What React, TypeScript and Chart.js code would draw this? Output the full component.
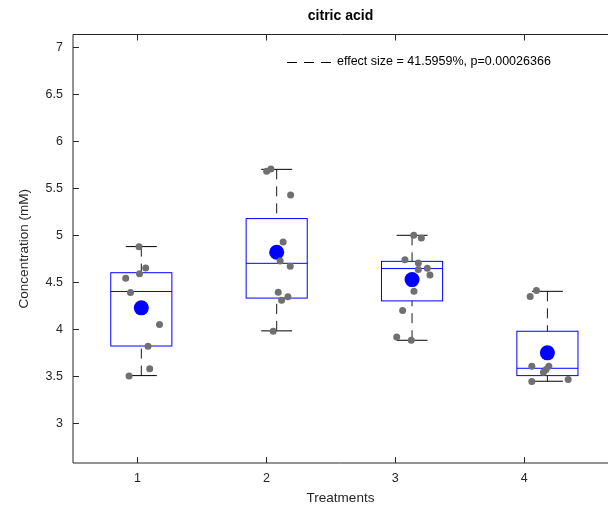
import React, { useEffect, useRef } from "react";
import { Chart, registerables } from "chart.js";

Chart.register(...registerables);

const chartTitle = "citric acid";
const xAxisTitle = "Treatments";
const yAxisTitle = "Concentration (mM)";
const legendText = "effect size = 41.5959%, p=0.00026366";

const treatments = [1, 2, 3, 4];
const xTickLabels = ["1", "2", "3", "4"];
const yTickValues = [3, 3.5, 4, 4.5, 5, 5.5, 6, 6.5, 7];

// Centre of each treatment group on the x axis
const groupPositions = [1.03, 2.08, 3.13, 4.18];

// Box statistics per treatment
const boxQ1 = [3.82, 4.33, 4.3, 3.505];
const boxMedian = [4.4, 4.7, 4.644, 3.583];
const boxQ3 = [4.6, 5.176, 4.721, 3.977];
const whiskerLow = [3.505, 3.981, 3.881, 3.445];
const whiskerHigh = [4.878, 5.7, 4.998, 4.402];
const groupMeans = [4.226, 4.817, 4.527, 3.747];

// Individual replicates (jittered x, concentration y)
const rep1X = [1.012, 1.064, 1.016, 0.909, 0.946, 1.171, 1.082, 1.095, 0.935];
const rep1Y = [4.875, 4.651, 4.59, 4.54, 4.39, 4.05, 3.817, 3.577, 3.502];
const rep2X = [2.002, 2.035, 2.188, 2.13, 2.107, 2.185, 2.092, 2.167, 2.118, 2.053];
const rep2Y = [5.679, 5.704, 5.428, 4.928, 4.725, 4.668, 4.392, 4.343, 4.306, 3.977];
const rep3X = [3.143, 3.202, 3.075, 3.179, 3.179, 3.248, 3.269, 3.145, 3.057, 3.011, 3.124];
const rep3Y = [4.998, 4.97, 4.739, 4.704, 4.633, 4.647, 4.576, 4.402, 4.197, 3.917, 3.881];
const rep4X = [4.095, 4.046, 4.059, 4.191, 4.17, 4.149, 4.059, 4.341];
const rep4Y = [4.41, 4.346, 3.604, 3.604, 3.569, 3.54, 3.441, 3.463];

const FONT = '"Liberation Sans", Arial, Helvetica, sans-serif';
const AXIS_COLOR = "#262626";
const BOX_COLOR = "#0000ff";
const BOX_HALF = 0.237;
const CAP_HALF = 0.12;

const boxPlugin = {
  id: "boxes",
  beforeDatasetsDraw(chart: any) {
    const { ctx } = chart;
    const xs = chart.scales.x;
    const ys = chart.scales.y;
    ctx.save();
    groupPositions.forEach((pos, i) => {
      const cx = xs.getPixelForValue(pos);
      const l = xs.getPixelForValue(pos - BOX_HALF);
      const r = xs.getPixelForValue(pos + BOX_HALF);
      const cl = xs.getPixelForValue(pos - CAP_HALF);
      const cr = xs.getPixelForValue(pos + CAP_HALF);
      const yQ1 = ys.getPixelForValue(boxQ1[i]);
      const yQ3 = ys.getPixelForValue(boxQ3[i]);
      const yMed = ys.getPixelForValue(boxMedian[i]);
      const yLo = ys.getPixelForValue(whiskerLow[i]);
      const yHi = ys.getPixelForValue(whiskerHigh[i]);

      // whiskers (dashed, drawn from the caps towards the box)
      ctx.strokeStyle = "#1a1a1a";
      ctx.lineWidth = 1;
      ctx.setLineDash([10, 7]);
      ctx.beginPath();
      ctx.moveTo(cx, yHi);
      ctx.lineTo(cx, yQ3);
      ctx.moveTo(cx, yLo);
      ctx.lineTo(cx, yQ1);
      ctx.stroke();
      ctx.setLineDash([]);

      // caps
      ctx.strokeStyle = "#000";
      ctx.beginPath();
      ctx.moveTo(cl, yHi);
      ctx.lineTo(cr, yHi);
      ctx.moveTo(cl, yLo);
      ctx.lineTo(cr, yLo);
      ctx.stroke();

      // box and median
      ctx.strokeStyle = BOX_COLOR;
      ctx.strokeRect(l, yQ3, r - l, yQ1 - yQ3);
      ctx.beginPath();
      ctx.moveTo(l, yMed);
      ctx.lineTo(r, yMed);
      ctx.stroke();
    });
    ctx.restore();
  },
  afterDraw(chart: any) {
    const { ctx, chartArea } = chart;
    const xs = chart.scales.x;
    const ys = chart.scales.y;
    const { left, right, top, bottom } = chartArea;
    ctx.save();

    // axes frame
    ctx.strokeStyle = AXIS_COLOR;
    ctx.lineWidth = 1;
    ctx.beginPath();
    ctx.moveTo(left, top);
    ctx.lineTo(right, top);
    ctx.moveTo(left, bottom);
    ctx.lineTo(right, bottom);
    ctx.moveTo(left, top);
    ctx.lineTo(left, bottom);
    // inward tick marks
    treatments.forEach((t) => {
      const x = Math.round(xs.getPixelForValue(t)) + 0.5;
      ctx.moveTo(x, bottom);
      ctx.lineTo(x, bottom - 6);
      ctx.moveTo(x, top);
      ctx.lineTo(x, top + 6);
    });
    yTickValues.forEach((v) => {
      const y = Math.round(ys.getPixelForValue(v)) + 0.5;
      ctx.moveTo(left, y);
      ctx.lineTo(left + 6, y);
    });
    ctx.stroke();

    // title
    ctx.fillStyle = "#000";
    ctx.font = `bold 14px ${FONT}`;
    ctx.textAlign = "center";
    ctx.textBaseline = "middle";
    ctx.fillText(chartTitle, (left + right) / 2, 16.5);

    // axis titles
    ctx.fillStyle = AXIS_COLOR;
    ctx.font = `13.5px ${FONT}`;
    ctx.fillText(xAxisTitle, (left + right) / 2, 498);
    ctx.save();
    ctx.translate(24, (top + bottom) / 2);
    ctx.rotate(-Math.PI / 2);
    ctx.fillText(yAxisTitle, 0, 0);
    ctx.restore();

    // legend
    const ly = 62;
    ctx.strokeStyle = "#000";
    ctx.setLineDash([10, 7]);
    ctx.beginPath();
    ctx.moveTo(287, ly + 0.5);
    ctx.lineTo(334, ly + 0.5);
    ctx.stroke();
    ctx.setLineDash([]);
    ctx.fillStyle = "#000";
    ctx.font = `12.5px ${FONT}`;
    ctx.textAlign = "left";
    ctx.fillText(legendText, 337, ly);

    ctx.restore();
  },
};

export default function App() {
  const canvasRef = useRef<HTMLCanvasElement | null>(null);

  useEffect(() => {
    const canvas = canvasRef.current;
    if (!canvas) return;

    const toPoints = (xsArr: number[], ysArr: number[]) =>
      xsArr.map((x, i) => ({ x, y: ysArr[i] }));

    const replicates = [
      ...toPoints(rep1X, rep1Y),
      ...toPoints(rep2X, rep2Y),
      ...toPoints(rep3X, rep3Y),
      ...toPoints(rep4X, rep4Y),
    ];
    const means = groupPositions.map((x, i) => ({ x, y: groupMeans[i] }));

    const chart = new Chart(canvas, {
      type: "scatter",
      data: {
        datasets: [
          {
            label: "replicates",
            data: replicates,
            order: 0,
            pointRadius: 3.5,
            pointBorderWidth: 0,
            pointBackgroundColor: "#707070",
            pointBorderColor: "#707070",
          },
          {
            label: "mean",
            data: means,
            order: 1,
            pointRadius: 7.5,
            pointBorderWidth: 0,
            pointBackgroundColor: BOX_COLOR,
            pointBorderColor: BOX_COLOR,
          },
        ],
      },
      options: {
        responsive: false,
        animation: false,
        events: [],
        layout: { autoPadding: false, padding: { top: 34.5, left: 0, right: 0, bottom: 0 } },
        plugins: {
          legend: { display: false },
          title: { display: false },
          tooltip: { enabled: false },
        },
        scales: {
          x: {
            type: "linear",
            min: 0.5,
            max: 4.65,
            grid: { display: false, drawTicks: false, tickLength: 0 },
            border: { display: false },
            afterBuildTicks: (s: any) => {
              s.ticks = treatments.map((v) => ({ value: v }));
            },
            afterFit: (s: any) => {
              s.height = 46;
              s.paddingLeft = 0;
              s.paddingRight = 0;
            },
            ticks: {
              padding: 8,
              autoSkip: false,
              maxRotation: 0,
              color: AXIS_COLOR,
              font: { family: FONT, size: 12.5 },
              callback: (v: any) => xTickLabels[treatments.indexOf(Number(v))] ?? "",
            },
          },
          y: {
            type: "linear",
            min: 2.575,
            max: 7.135,
            grid: { display: false, drawTicks: false, tickLength: 0 },
            border: { display: false },
            afterBuildTicks: (s: any) => {
              s.ticks = yTickValues.map((v) => ({ value: v }));
            },
            afterFit: (s: any) => {
              s.width = 73;
              s.paddingTop = 0;
              s.paddingBottom = 0;
            },
            ticks: {
              padding: 10,
              autoSkip: false,
              color: AXIS_COLOR,
              font: { family: FONT, size: 12.5 },
              callback: (v: any) => String(v),
            },
          },
        },
      },
      plugins: [boxPlugin],
    });

    return () => chart.destroy();
  }, []);

  return (
    <div style={{ position: "fixed", left: 0, top: 0, width: 608, height: 509, background: "#fff" }}>
      <canvas ref={canvasRef} width={608} height={509} style={{ display: "block" }} />
    </div>
  );
}
